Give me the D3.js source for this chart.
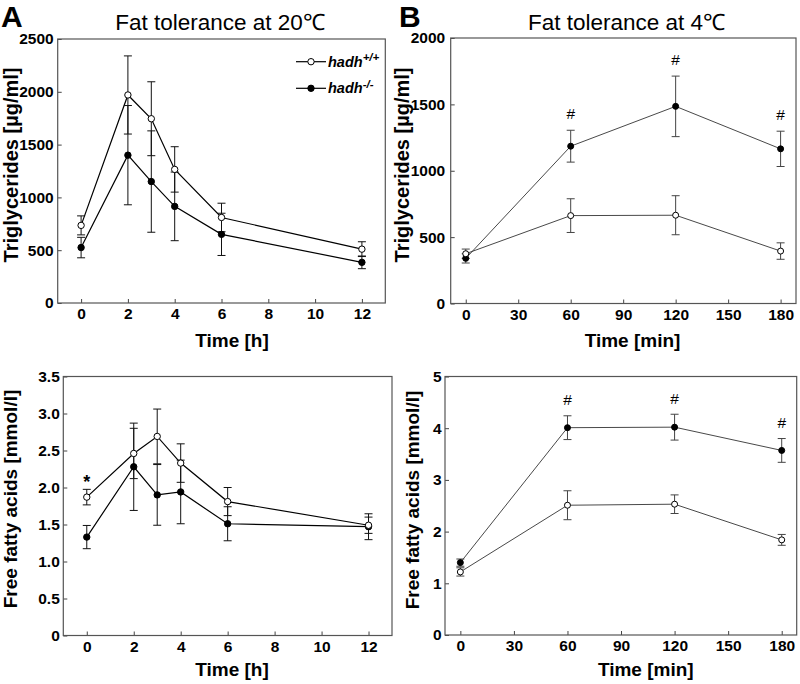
<!DOCTYPE html>
<html>
<head>
<meta charset="utf-8">
<script src="https://cdn.jsdelivr.net/npm/d3@7"></script>
<style>
  html, body { margin: 0; padding: 0; background: #fff; }
  svg { display: block; font-family: "Liberation Sans", Arial, Helvetica, sans-serif; }
</style>
</head>
<body>
<svg id="chart" width="800" height="684"></svg>
<script>
// ---------------- data ----------------
// Panel A – 20 °C, time in hours
const timeA = [0, 2, 3, 4, 6, 12];
const tgWT_A    = [735, 1970, 1745, 1265, 810, 510];
const tgWT_A_se = [90, 370, 350, 215, 135, 70];
const tgKO_A    = [525, 1400, 1150, 915, 650, 385];
const tgKO_A_se = [97, 470, 480, 325, 200, 60];

const ffaWT_A    = [1.87, 2.46, 2.69, 2.33, 1.81, 1.49];
const ffaWT_A_se = [0.105, 0.34, 0.37, 0.26, 0.19, 0.11];
const ffaKO_A    = [1.33, 2.28, 1.90, 1.94, 1.51, 1.47];
const ffaKO_A_se = [0.157, 0.59, 0.41, 0.43, 0.23, 0.175];

// Panel B – 4 °C, time in minutes
const timeB = [0, 60, 120, 180];
const tgWT_B    = [375, 662, 665, 395];
const tgWT_B_se = [35, 127, 147, 62];
const tgKO_B    = [340, 1185, 1485, 1165];
const tgKO_B_se = [35, 120, 228, 133];

const ffaWT_B    = [1.22, 2.51, 2.53, 1.84];
const ffaWT_B_se = [0.08, 0.28, 0.18, 0.105];
const ffaKO_B    = [1.40, 4.01, 4.02, 3.57];
const ffaKO_B_se = [0.07, 0.23, 0.25, 0.23];

// significance markers (time points)
const sigTgB  = [60, 120, 180];   // "#"
const sigFfaB = [60, 120, 180];   // "#"
const sigFfaA = [0];              // "*"

// tick labels
const xTicksA = [0, 2, 4, 6, 8, 10, 12];
const xTicksB = [0, 30, 60, 90, 120, 150, 180];
const yTicksTgA = [0, 500, 1000, 1500, 2000, 2500];
const yTicksFfaA = [0, 0.5, 1.0, 1.5, 2.0, 2.5, 3.0, 3.5];
const yTicksTgB = [0, 500, 1000, 1500, 2000];
const yTicksFfaB = [0, 1, 2, 3, 4, 5];

const legendLabels = [["hadh", "+/+"], ["hadh", "-/-"]];

// ---------------- drawing ----------------
const svg = d3.select("#chart");

function panel(o) {
  const x = d3.scaleLinear().domain(o.xDomain).range([o.left, o.right]);
  const y = d3.scaleLinear().domain(o.yDomain).range([o.bottom, o.top]);
  const g = svg.append("g");

  const ax = g.append("g").attr("transform", `translate(0,${o.bottom})`)
    .call(d3.axisBottom(x).tickValues(o.xTicks).tickSizeInner(-4).tickSizeOuter(0).tickPadding(5));
  const ay = g.append("g").attr("transform", `translate(${o.left},0)`)
    .call(d3.axisLeft(y).tickValues(o.yTicks).tickFormat(o.yFormat).tickSizeInner(-4).tickSizeOuter(0).tickPadding(o.yPad));
  [ax, ay].forEach(a => {
    a.select(".domain").remove();
    a.selectAll(".tick line").attr("stroke", "#444").attr("stroke-width", 1);
    a.selectAll(".tick text").attr("fill", "#000").style("font-size", "15.5px").style("font-weight", "bold")
      .style("font-family", '"Liberation Sans", Arial, Helvetica, sans-serif');
  });

  g.append("rect").attr("x", o.left).attr("y", o.top)
    .attr("width", o.right - o.left).attr("height", o.bottom - o.top)
    .attr("fill", "none").attr("stroke", "#555").attr("stroke-width", 1.2);

  const series = [
    { v: o.ko, se: o.koSe, fill: "#000" },
    { v: o.wt, se: o.wtSe, fill: "#fff" }
  ];
  const line = d3.line().x((d, i) => x(o.time[i])).y(d => y(d));

  series.forEach(s => {
    g.append("path").datum(s.v).attr("d", line)
      .attr("fill", "none").attr("stroke", o.lineColor).attr("stroke-width", o.lineWidth);
  });
  series.forEach(s => {
    const eb = g.append("g").attr("stroke", o.errColor).attr("stroke-width", 1).attr("fill", "none");
    s.v.forEach((v, i) => {
      const cx = x(o.time[i]), yt = y(v + s.se[i]), yb = y(v - s.se[i]);
      eb.append("line").attr("x1", cx).attr("x2", cx).attr("y1", yt).attr("y2", yb);
      eb.append("line").attr("x1", cx - 4).attr("x2", cx + 4).attr("y1", yt).attr("y2", yt);
      eb.append("line").attr("x1", cx - 4).attr("x2", cx + 4).attr("y1", yb).attr("y2", yb);
    });
  });
  series.forEach(s => {
    g.append("g").selectAll("circle").data(s.v).join("circle")
      .attr("cx", (d, i) => x(o.time[i])).attr("cy", d => y(d)).attr("r", o.r)
      .attr("fill", s.fill).attr("stroke", "#000").attr("stroke-width", 1);
  });

  if (o.sig) {
    o.sig.times.forEach(t => {
      const i = o.time.indexOf(t);
      const topVal = Math.max(o.wt[i] + o.wtSe[i], o.ko[i] + o.koSe[i]);
      const cy = y(topVal) - o.sig.offset;
      g.append("text").attr("x", x(t)).attr("y", cy + o.sig.base * o.sig.size)
        .attr("text-anchor", "middle").style("font-size", o.sig.size + "px")
        .style("font-weight", o.sig.weight).text(o.sig.symbol);
    });
  }

  g.append("text").attr("x", o.xLabelX).attr("y", o.xLabelY).attr("text-anchor", "middle")
    .style("font-size", "19px").style("font-weight", "bold").text(o.xLabel);
  g.append("text").attr("transform", `translate(${o.yLabelX},${o.yLabelY}) rotate(-90)`)
    .attr("text-anchor", "middle").style("font-size", o.yLabelSize + "px").style("font-weight", "bold").text(o.yLabel);
  return { x, y, g };
}

const fmtFfaA = d => d === 0 ? "0" : d3.format(".1f")(d);
const fmtInt = d3.format("d");

panel({
  left: 57.7, right: 385.3, top: 39, bottom: 303,
  xDomain: [-1, 13], yDomain: [0, 2500], xTicks: xTicksA, yTicks: yTicksTgA, yFormat: fmtInt, yPad: 4,
  time: timeA, wt: tgWT_A, wtSe: tgWT_A_se, ko: tgKO_A, koSe: tgKO_A_se,
  lineColor: "#000", lineWidth: 1.2, errColor: "#111", r: 3.2,
  xLabel: "Time [h]", xLabelX: 232, xLabelY: 347,
  yLabel: "Triglycerides [µg/ml]", yLabelX: 17.6, yLabelY: 165, yLabelSize: 20
});
panel({
  left: 63.3, right: 392, top: 376.5, bottom: 635.5,
  xDomain: [-1, 13], yDomain: [0, 3.5], xTicks: xTicksA, yTicks: yTicksFfaA, yFormat: fmtFfaA, yPad: 3.5,
  time: timeA, wt: ffaWT_A, wtSe: ffaWT_A_se, ko: ffaKO_A, koSe: ffaKO_A_se,
  lineColor: "#000", lineWidth: 1.2, errColor: "#111", r: 3.2,
  sig: { times: sigFfaA, symbol: "*", offset: 12, size: 18, base: 0.58, weight: "bold" },
  xLabel: "Time [h]", xLabelX: 232, xLabelY: 675.5,
  yLabel: "Free fatty acids [mmol/l]", yLabelX: 16.9, yLabelY: 499, yLabelSize: 19
});
panel({
  left: 450.7, right: 796, top: 38, bottom: 303.5,
  xDomain: [-8.6, 188.8], yDomain: [0, 2000], xTicks: xTicksB, yTicks: yTicksTgB, yFormat: fmtInt, yPad: 5.5,
  time: timeB, wt: tgWT_B, wtSe: tgWT_B_se, ko: tgKO_B, koSe: tgKO_B_se,
  lineColor: "#333", lineWidth: 0.9, errColor: "#444", r: 3,
  sig: { times: sigTgB, symbol: "#", offset: 17, size: 15.5, base: 0.35, weight: "normal" },
  xLabel: "Time [min]", xLabelX: 632.5, xLabelY: 347,
  yLabel: "Triglycerides [µg/ml]", yLabelX: 409.3, yLabelY: 165, yLabelSize: 20
});
panel({
  left: 445, right: 796.7, top: 376.5, bottom: 635,
  xDomain: [-8.6, 188.4], yDomain: [0, 5], xTicks: xTicksB, yTicks: yTicksFfaB, yFormat: fmtInt, yPad: 3.5,
  time: timeB, wt: ffaWT_B, wtSe: ffaWT_B_se, ko: ffaKO_B, koSe: ffaKO_B_se,
  lineColor: "#333", lineWidth: 0.9, errColor: "#444", r: 3,
  sig: { times: sigFfaB, symbol: "#", offset: 16, size: 15.5, base: 0.35, weight: "normal" },
  xLabel: "Time [min]", xLabelX: 645.8, xLabelY: 675.5,
  yLabel: "Free fatty acids [mmol/l]", yLabelX: 418.6, yLabelY: 500, yLabelSize: 19
});

svg.append("text").attr("x", 220).attr("y", 29.5).attr("text-anchor", "middle")
  .style("font-size", "22.5px").text("Fat tolerance at 20\u2103");
svg.append("text").attr("x", 626.5).attr("y", 29.5).attr("text-anchor", "middle")
  .style("font-size", "22.5px").text("Fat tolerance at 4\u2103");
svg.append("text").attr("x", 1).attr("y", 26.7).style("font-size", "30px").style("font-weight", "bold").text("A");
svg.append("text").attr("x", 399).attr("y", 26.7).style("font-size", "30px").style("font-weight", "bold").text("B");

const legFills = ["#fff", "#000"];
const legY = [61.7, 88.3];
const lg = svg.append("g");
legendLabels.forEach((lab, i) => {
  lg.append("line").attr("x1", 296).attr("x2", 326).attr("y1", legY[i]).attr("y2", legY[i])
    .attr("stroke", "#000").attr("stroke-width", 1.2);
  lg.append("circle").attr("cx", 311).attr("cy", legY[i]).attr("r", 3.2)
    .attr("fill", legFills[i]).attr("stroke", "#000").attr("stroke-width", 1);
  const t = lg.append("text").attr("x", 328).attr("y", legY[i] + 5)
    .style("font-size", "14.5px").style("font-weight", "bold").style("font-style", "italic");
  t.append("tspan").text(lab[0]);
  t.append("tspan").attr("dy", -5.5).style("font-size", "11.5px").text(lab[1]);
});
</script>
</body>
</html>
